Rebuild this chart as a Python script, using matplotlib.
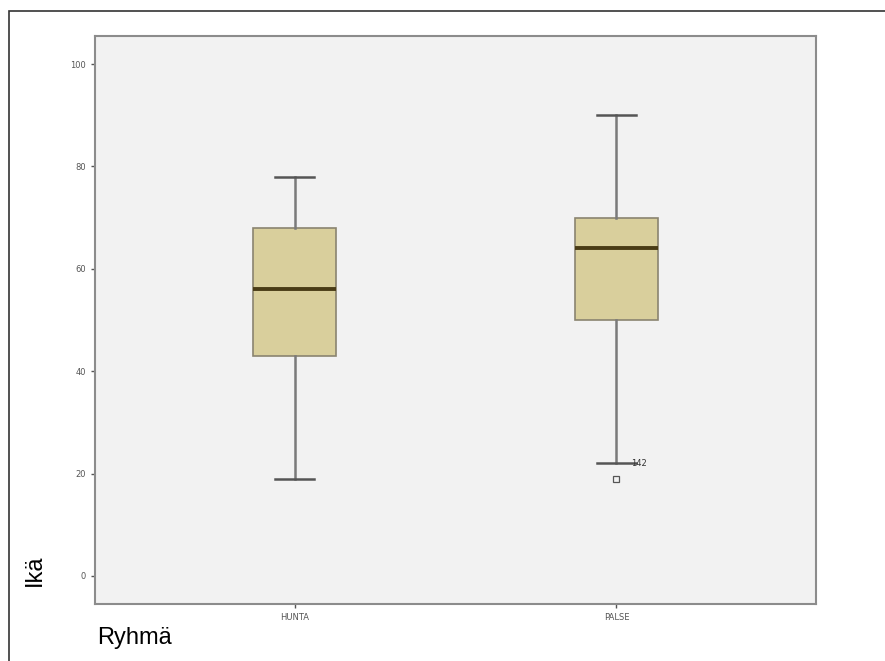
import matplotlib.pyplot as plt
from matplotlib.patches import Rectangle

# Group labels and box statistics
groups = ["HUNTA", "PALSE"]
whisker_low = [19, 22]
q1 = [43, 50]
median = [56, 64]
q3 = [68, 70]
whisker_high = [78, 90]
outliers = [[], [19]]
outlier_label = "142"
outlier_label_value = 22

y_ticks = [0, 20, 40, 60, 80, 100]

stats = []
for i, name in enumerate(groups):
    stats.append({
        "label": name,
        "whislo": whisker_low[i],
        "q1": q1[i],
        "med": median[i],
        "q3": q3[i],
        "whishi": whisker_high[i],
        "fliers": outliers[i],
    })

fig = plt.figure(figsize=(8.85, 6.61), dpi=100)
ax = fig.add_axes([95 / 885, 1 - 604 / 661, 721 / 885, 568 / 661])
ax.set_facecolor("#f2f2f2")

ax.bxp(
    stats,
    positions=[1, 2],
    widths=0.26,
    patch_artist=True,
    boxprops=dict(facecolor="#d9cf9c", edgecolor="#8a8470", linewidth=1.2),
    medianprops=dict(color="#4a3c16", linewidth=2.8),
    whiskerprops=dict(color="#7a7a7a", linewidth=1.8),
    capprops=dict(color="#555555", linewidth=1.8),
    capwidths=0.12,
    flierprops=dict(marker="s", markersize=5, markerfacecolor="none",
                    markeredgecolor="#555555", markeredgewidth=0.9),
)

# outlier case number next to the lower whisker of the second group
ax.text(2.045, outlier_label_value, outlier_label, fontsize=6,
        color="#333333", va="center", ha="left")

ax.set_xlim(0.38, 2.62)
ax.set_ylim(-5.5, 105.5)
ax.set_yticks(y_ticks)
ax.set_xticks([1, 2])
ax.set_xticklabels(groups)
ax.tick_params(axis="both", labelsize=6, labelcolor="#555555",
               color="#555555", length=3, width=1)

for side in ["top", "right", "bottom", "left"]:
    ax.spines[side].set_color("#8c8c8c")
    ax.spines[side].set_linewidth(1.5)

fig.text(35 / 885, 1 - 570 / 661, "Ikä", rotation=90, fontsize=17,
         family="Liberation Sans", ha="center", va="center")
fig.text(97 / 885, 1 - 638 / 661, "Ryhmä", fontsize=17,
         family="Liberation Sans", ha="left", va="center")

# outer frame (right and bottom edges fall outside the image)
fig.patches.append(Rectangle((9 / 885, -0.1), 1.2, 1 - 11 / 661 + 0.1,
                             transform=fig.transFigure, fill=False,
                             edgecolor="#333333", linewidth=1.2))

plt.savefig("out.png", dpi=100)
plt.close()
